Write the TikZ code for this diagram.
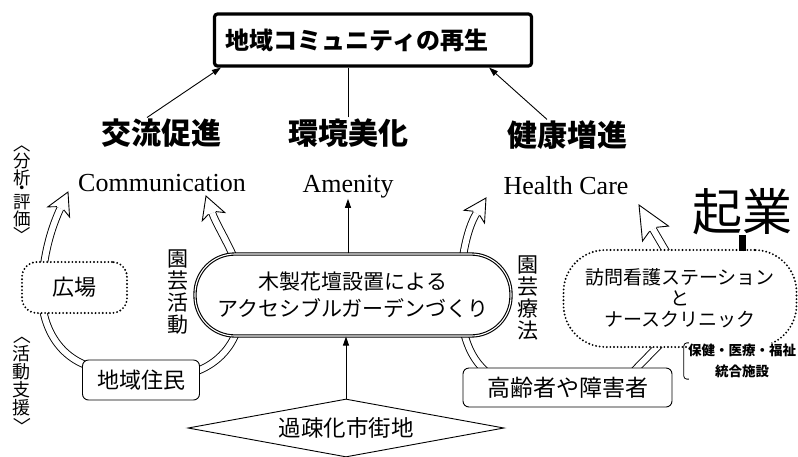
\documentclass[tikz,border=0pt]{standalone}
\usepackage{fontspec}
\usepackage{graphicx}
\setmainfont{Liberation Serif}
\newfontfamily\jp{Noto Sans CJK JP}
\usetikzlibrary{arrows.meta,shapes.geometric}
\newcommand{\vopen}{\rotatebox[origin=c]{-90}{〈}}
\newcommand{\vclose}{\rotatebox[origin=c]{-90}{〉}}
\newcommand{\vc}[1]{\hbox to 20pt{\hss#1\hss}}
\tikzset{
  tube/.style={double=white, double distance=6pt, line width=0.9pt},
  hhead/.pic={
    \fill[white] (-18,3.9)--(-22,12)--(0,0)--(-22,-12)--(-18,-3.9)--cycle;
    \draw[line width=0.9pt, line join=miter] (-18,3.9)--(-22,12)--(0,0)--(-22,-12)--(-18,-3.9);
  },
  bighead/.pic={
    \fill[white] (-28,3.9)--(-33,15)--(0,0)--(-33,-15)--(-28,-3.9)--cycle;
    \draw[line width=0.9pt, line join=miter] (-28,3.9)--(-33,15)--(0,0)--(-33,-15)--(-28,-3.9);
  },
  topbox/.style={draw, line width=3.2pt, rounded corners=3pt, fill=white,
    font=\jp\bfseries\fontsize{24}{24}\selectfont, text width=295pt, align=left,
    inner xsep=11pt, minimum height=52pt},
  headtxt/.style={font=\jp\bfseries\fontsize{30}{30}\selectfont, inner sep=1pt},
  eng/.style={font=\fontsize{26}{26}\selectfont, inner sep=1pt, anchor=base},
  mainbox/.style={draw, double, line width=1.1pt, double distance=1.1pt, fill=white,
    rounded corners=40pt, minimum width=316pt, minimum height=82pt, align=center,
    font=\jp\fontsize{21}{27}\selectfont},
  rbox/.style={draw, fill=white, rounded corners=6pt, line width=0.9pt, inner sep=2pt},
  dotbox/.style={draw, fill=white, line width=2.1pt, line cap=round,
    dash pattern=on 0pt off 3.6pt, align=center},
  vlab/.style={align=center, inner sep=0pt},
  conn/.style={line width=0.9pt, -{Triangle[length=9pt,width=6pt]}},
}
\begin{document}
\begin{tikzpicture}[x=1pt, y=-1pt]
\useasboundingbox (0,0) rectangle (798,456);

% hollow tube arrows (drawn first, partly hidden by boxes)
\draw[tube] (95,368) .. controls (55,358) and (38,320) .. (42,280) .. controls (45,250) and (51.2,228.3) .. (60.4,208.3);
\draw[tube] (185,375) .. controls (225,365) and (243,335) .. (243,295) .. controls (243,264) and (219,231.7) .. (212.2,212.9);
\draw[tube] (495,378) .. controls (468,362) and (460,330) .. (460,295) .. controls (460,265) and (465.9,230.3) .. (476.5,213.3);
\draw[tube] (627,378) -- (668,336);
\draw[tube] (674,265) -- (653,229.2);
\pic[rotate=65] at (68,192) {hhead};
\pic[rotate=110] at (206,196) {hhead};
\pic[rotate=58] at (486,198) {hhead};
\pic[rotate=120] at (639,205) {bighead};

% top box
\node[topbox] (top) at (373,40) {地域コミュニティの再生};

% headings
\node[headtxt] (kouryu) at (161,133) {交流促進};
\node[headtxt] (kankyo) at (348,133) {環境美化};
\node[headtxt] (kenkou) at (567,135) {健康増進};

% english
\node[eng] (comm) at (162,191) {Communication};
\node[eng] (amen) at (348,192) {Amenity};
\node[eng] (hcare) at (566,194) {Health Care};

% main node
\node[mainbox] (main) at (353,295) {木製花壇設置による\\アクセシブルガーデンづくり};

% diamond
\node[diamond, draw, fill=white, line width=0.9pt, minimum width=316pt, minimum height=58pt,
  aspect=5, inner sep=0pt, font=\jp\fontsize{22.5}{22.5}\selectfont] (dia) at (346,428) {過疎化市街地};

% boxes
\node[rbox, minimum width=117pt, minimum height=40pt, font=\jp\fontsize{22}{22}\selectfont] (chiiki) at (141,380) {地域住民};
\node[rbox, minimum width=209pt, minimum height=39pt, font=\jp\fontsize{23}{23}\selectfont] (kourei) at (567.5,387.5) {高齢者や障害者};
\node[dotbox, rounded corners=15pt, minimum width=105pt, minimum height=51pt, font=\jp\fontsize{22}{22}\selectfont] (hiroba) at (74.5,287.5) {広場};
\node[dotbox, rounded corners=42pt, minimum width=233pt, minimum height=97pt, font=\jp\fontsize{19}{21}\selectfont] (houmon) at (680,298.5) {訪問看護ステーション\\と\\ナースクリニック};

% small label with bracket
\node[font=\jp\bfseries\fontsize{13.5}{21}\selectfont, align=center, fill=white, inner sep=1pt] (hoken) at (742,361) {保健・医療・福祉\\統合施設};
\draw[line width=0.8pt, rounded corners=3pt] ([xshift=2pt]hoken.north west) -- ([xshift=-3pt]hoken.north west) -- ([xshift=-3pt]hoken.south west) -- ([xshift=2pt]hoken.south west);

% kigyo logo
\node[font=\jp\fontsize{50}{50}\selectfont, inner sep=0pt] (kigyo) at (742,212) {起業};
\fill (739,235) rectangle (746,251);

% vertical labels
\node[vlab, font=\jp\fontsize{17.5}{19}\selectfont] (bunseki) at (22,190)
  {\vbox{\offinterlineskip\vc{\vopen}\vskip0.5pt\vc{分}\vskip0.5pt\vc{析}\vskip0pt\vc{・}\vskip0pt\vc{評}\vskip0.5pt\vc{価}\vskip0.5pt\vc{\vclose}}};
\node[vlab, font=\jp\fontsize{18}{19}\selectfont] (katsudo) at (22,381)
  {\vbox{\offinterlineskip\vc{\vopen}\vskip1.5pt\vc{活}\vskip1.5pt\vc{動}\vskip1.5pt\vc{支}\vskip1.5pt\vc{援}\vskip1.5pt\vc{\vclose}}};
\node[vlab, font=\jp\fontsize{21}{22}\selectfont] (engei1) at (178,292) {園\\芸\\活\\動};
\node[vlab, font=\jp\fontsize{21}{22}\selectfont] (engei2) at (528,298) {園\\芸\\療\\法};

% connectors
\draw[conn] ([xshift=-14pt]kouryu.north) -- ([xshift=8pt]top.south west);
\draw[line width=0.9pt] (kankyo.north) -- (kankyo.north |- top.south);
\draw[conn] ([xshift=-20pt]kenkou.north) -- ([xshift=-44pt]top.south east);
\draw[conn] (main.north -| amen.south) -- (amen.south);
\draw[conn] (dia.north) -- (dia.north |- main.south);
\end{tikzpicture}
\end{document}
